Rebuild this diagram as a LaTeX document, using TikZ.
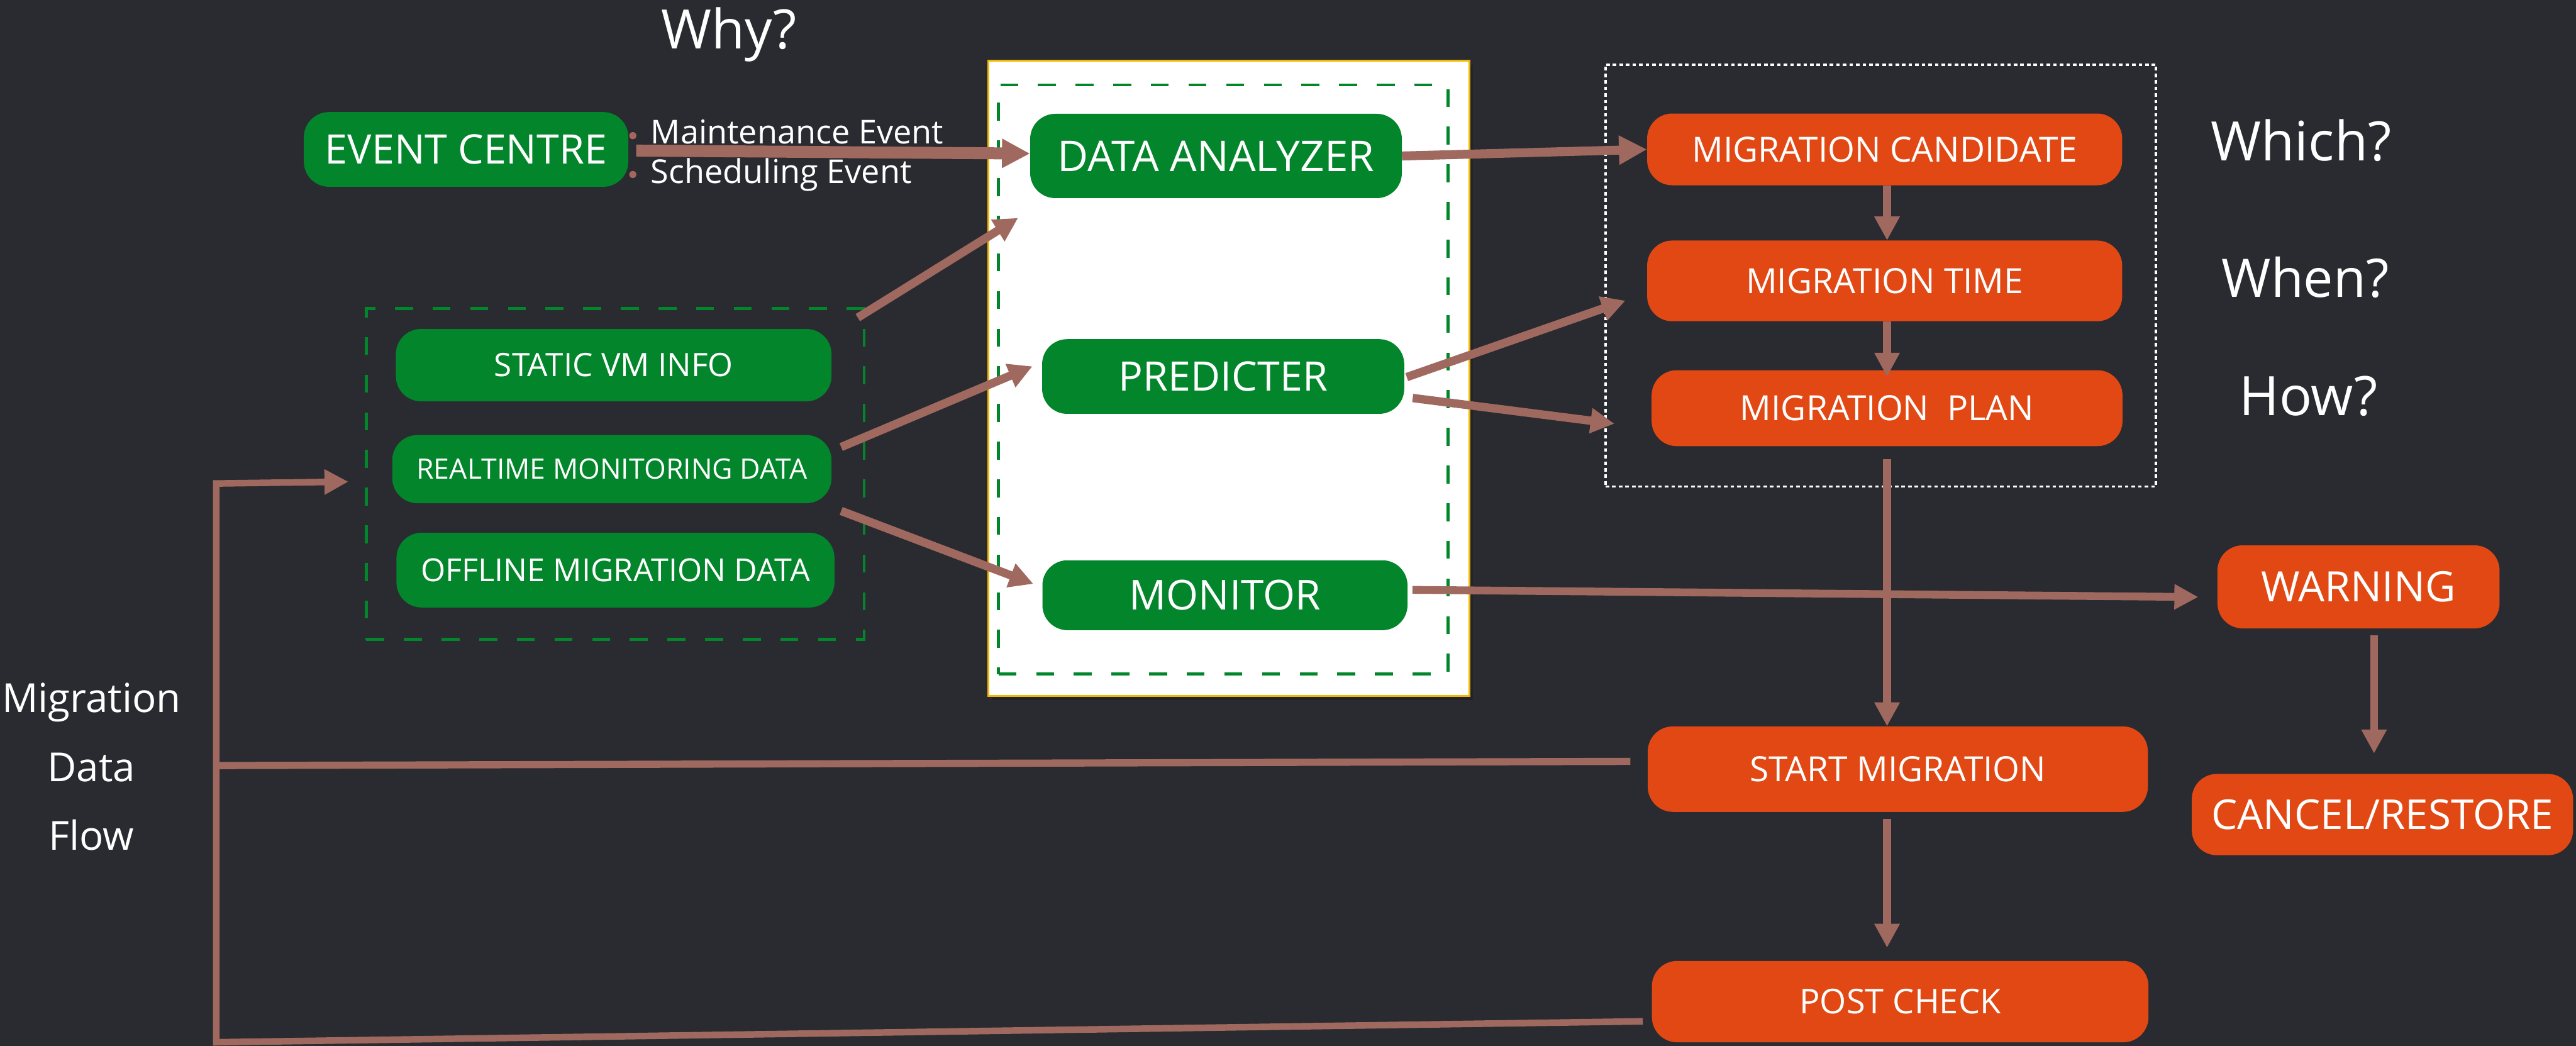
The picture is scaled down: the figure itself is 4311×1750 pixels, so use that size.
\documentclass[tikz,border=0pt]{standalone}
\usepackage{fontspec}
\setmainfont{Open Sans}
\usetikzlibrary{arrows.meta,shadows,calc}
\definecolor{bgc}{HTML}{292B30}
\definecolor{gboxc}{HTML}{03862B}
\definecolor{oboxc}{HTML}{E24814}
\definecolor{arrc}{HTML}{A0695F}
\definecolor{dotc}{HTML}{A5665B}
\definecolor{shadowc}{HTML}{1D1E22}
\definecolor{panelborder}{HTML}{F2B705}
\newcommand\fsz[1]{\fontsize{#1}{#1}\selectfont}
\begin{document}
\begin{tikzpicture}[x=1pt,y=-1pt,
  box/.style={rounded corners=42pt, text=white, inner sep=0pt, align=center},
  gbox/.style={box, fill=gboxc},
  obox/.style={box, fill=oboxc},
  lbl/.style={text=white, inner sep=0pt},
  conn/.style={draw=arrc, line width=13pt},
  tipA/.style={-{Triangle[length=40pt,width=40pt]}},
  tipB/.style={-{Triangle[length=47pt,width=46pt]}},
  gdash/.style={draw=gboxc, line width=5pt, dash pattern=on 30pt off 33pt, inner sep=0pt},
  wdot/.style={draw=white, line width=4pt, dash pattern=on 6pt off 5pt, inner sep=0pt},
  bullet/.style={circle, fill=dotc, inner sep=0pt, minimum size=12pt}
]
\fill[bgc] (0,0) rectangle (4311,1750);
\useasboundingbox (0,0) rectangle (4311,1750);

% headings
\node[lbl, anchor=base, font=\fsz{91}] (why) at (1220,82) {Why?};
\node[lbl, anchor=base, font=\fsz{91}] (which) at (3851,269) {Which?};
\node[lbl, anchor=base, font=\fsz{89}] (when) at (3858,497) {When?};
\node[lbl, anchor=base, font=\fsz{91}] (how) at (3863,695) {How?};
\node[lbl, align=center, font=\fontsize{67}{115}\selectfont] (mdf) at (153,1283) {Migration\\Data\\Flow};

% panel and groups
\node[draw=panelborder, fill=white, line width=3pt, minimum width=805pt, minimum height=1063pt, inner sep=0pt,
      drop shadow={shadow xshift=6pt, shadow yshift=-6pt, fill=shadowc}] (panel) at (2056.5,633.5) {};
\node[gdash, minimum width=752pt, minimum height=986pt] (core) at (2047,635) {};
\node[gdash, minimum width=833pt, minimum height=554pt] (lg) at (1029.5,793) {};
\node[wdot, minimum width=921pt, minimum height=706pt] (dec) at (3147.5,461) {};

% green boxes
\node[gbox, minimum width=543pt, minimum height=125pt, font=\fsz{68}] (ec) at (780,250) {EVENT CENTRE};
\node[gbox, minimum width=622pt, minimum height=141pt, font=\fsz{71}] (da) at (2035,261) {DATA ANALYZER};
\node[gbox, minimum width=606pt, minimum height=125pt, font=\fsz{68}] (pr) at (2047,630) {PREDICTER};
\node[gbox, minimum width=611pt, minimum height=117pt, font=\fsz{69}] (mo) at (2050,996) {MONITOR};
\node[gbox, minimum width=729pt, minimum height=121pt, font=\fsz{54}] (svi) at (1027,611) {STATIC VM INFO};
\node[gbox, minimum width=735pt, minimum height=114pt, font=\fsz{47}] (rmd) at (1024,785) {REALTIME MONITORING DATA};
\node[gbox, minimum width=733pt, minimum height=125pt, font=\fsz{53}] (omd) at (1030,954) {OFFLINE MIGRATION DATA};

% orange boxes
\node[obox, minimum width=795pt, minimum height=120pt, font=\fsz{58}] (mc) at (3154,250) {MIGRATION CANDIDATE};
\node[obox, minimum width=795pt, minimum height=135pt, font=\fsz{58}] (mt) at (3154,470) {MIGRATION TIME};
\node[obox, minimum width=788pt, minimum height=127pt, font=\fsz{58}] (mp) at (3158,683) {MIGRATION\ \ PLAN};
\node[obox, minimum width=472pt, minimum height=139pt, font=\fsz{70}] (warn) at (3947,982) {WARNING};
\node[obox, minimum width=638pt, minimum height=136pt, font=\fsz{69}] (cancel) at (3987,1363) {CANCEL/RESTORE};
\node[obox, minimum width=837pt, minimum height=143pt, font=\fsz{58}] (sm) at (3176,1287) {START MIGRATION};
\node[obox, minimum width=831pt, minimum height=136pt, font=\fsz{57}] (pc) at (3180,1676) {POST CHECK};

% event labels
\node[bullet] (b1) at (1059,227) {};
\node[bullet] (b2) at (1059,292) {};
\node[lbl, anchor=base west, font=\fsz{55}] (me) at (1089,240) {Maintenance Event};
\node[lbl, anchor=base west, font=\fsz{55}] (se) at (1089,307) {Scheduling Event};

% free ends
\coordinate (j1) at (366,1281);
\coordinate (c2) at (362,1744);
\coordinate (c1) at (362,809);
\coordinate (c3) at (583,806);

% connectors
\draw[conn, line width=20pt, tipB] ($(ec.east)+(13,2)$) -- ($(da.west)+(0,-4)$);
\draw[conn, line width=14pt, tipA] ($(lg.north east)+(-13,18)$) -- ($(da.south west)+(-20,33)$);
\draw[conn, line width=14pt, tipA] ($(rmd.east)+(16,-37)$) -- ($(pr.west)+(-16,-17)$);
\draw[conn, line width=14pt, tipA] ($(rmd.east)+(16,70)$) -- ($(mo.west)+(-15,-19)$);
\draw[conn, line width=15pt, tipB] (da.east) -- (mc.west);
\draw[conn, line width=14pt, tipA] ($(pr.east)+(4,1)$) -- ($(mt.west)+(-36,33)$);
\draw[conn, line width=14pt, tipA] ($(pr.east)+(14,36)$) -- ($(mp.west)+(-62,26)$);
\draw[conn, tipA] ($(mo.east)+(8,-9)$) -- ($(warn.west)+(-32,17)$);
\draw[conn, tipA] ($(mp.south|-mc.south)$) -- ($(mp.south|-mt.north)$);
\draw[conn, tipA] ($(mp.south|-mt.south)$) -- ($(mp.north)+(0,11)$);
\draw[conn, tipA] ($(mp.south)+(0,22)$) -- ($(mp.south|-sm.north)$);
\draw[conn, tipA] ($(mp.south|-sm.south)+(0,12)$) -- ($(mp.south|-pc.north)+(0,-22)$);
\draw[conn, tipA] ($(warn.south)+(26,11)$) -- ($(warn.south|-cancel.north)+(26,-34)$);
\draw[conn, line width=12pt] ($(sm.west)+(-29,-13)$) -- (j1);
\draw[conn, line width=11pt, tipA] ($(pc.west)+(-15,33)$) -- (c2) -- (c1) -- (c3);
\end{tikzpicture}
\end{document}
